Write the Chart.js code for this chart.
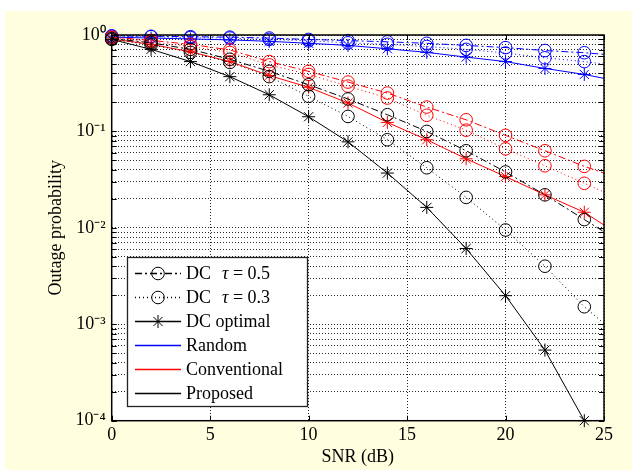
<!DOCTYPE html>
<html><head><meta charset="utf-8">
<script src="https://cdn.jsdelivr.net/npm/chart.js@4/dist/chart.umd.min.js"></script>
<style>html,body{margin:0;padding:0;background:#fff}#wrap{width:637px;height:470px}</style>
</head><body><div id="wrap"><canvas id="c" width="637" height="470"></canvas></div>
<script>
// ---- data ----
const snr = [0, 2, 4, 6, 8, 10, 12, 14, 16, 18, 20, 22, 24, 25];
// marker shown at every point except the final line end at 25 dB
const blueTau05  = [0.98, 0.97, 0.96, 0.95, 0.93, 0.90, 0.875, 0.85, 0.82, 0.78, 0.74, 0.69, 0.655, 0.63];
const blueTau03  = [0.97, 0.96, 0.94, 0.93, 0.90, 0.87, 0.83, 0.80, 0.76, 0.71, 0.65, 0.58, 0.53, 0.50];
const blueOpt    = [0.95, 0.93, 0.91, 0.89, 0.86, 0.82, 0.78, 0.72, 0.66, 0.59, 0.53, 0.45, 0.39, 0.355];
const redTau05   = [0.95, 0.88, 0.80, 0.70, 0.53, 0.42, 0.325, 0.25, 0.179, 0.132, 0.091, 0.063, 0.0434, 0.037];
const redTau03   = [0.94, 0.85, 0.76, 0.66, 0.49, 0.39, 0.295, 0.222, 0.147, 0.103, 0.066, 0.044, 0.029, 0.0235];
const redOpt     = [0.91, 0.80, 0.67, 0.53, 0.38, 0.287, 0.197, 0.124, 0.082, 0.052, 0.034, 0.022, 0.0145, 0.0107];
const blackTau05 = [0.92, 0.83, 0.71, 0.56, 0.42, 0.305, 0.217, 0.149, 0.10, 0.063, 0.038, 0.022, 0.0122, 0.0091];
const blackTau03 = [0.90, 0.79, 0.66, 0.52, 0.37, 0.231, 0.143, 0.082, 0.042, 0.0207, 0.0095, 0.0040, 0.00152, 0.00102];
const blackOpt   = [0.90, 0.71, 0.53, 0.37, 0.24, 0.142, 0.078, 0.037, 0.0163, 0.0061, 0.00198, 0.00054, 0.0001, null];
const xTicks = [0, 5, 10, 15, 20, 25];
const yDecades = [-4, -3, -2, -1, 0];
const legendLabels = ['DC  \u03c4 = 0.5', 'DC  \u03c4 = 0.3', 'DC optimal', 'Random', 'Conventional', 'Proposed'];
const xTitle = 'SNR (dB)';
const yTitle = 'Outage probability';

// ---- styles ----
const DASHDOT = [7, 3, 2, 3];
const DOT = [1, 3];
const BLUE = '#0000ff', RED = '#ff0000', BLACK = '#000000';
const FONT = "'Liberation Serif', 'Times New Roman', serif";

const yTickValues = [];
yDecades.forEach(d => {
  if (d === 0) { yTickValues.push(1); return; }
  for (let m = 1; m <= 9; m++) yTickValues.push(Number((m * Math.pow(10, d)).toPrecision(3)));
});

function mk(vals, color, style) {
  const isStar = style === 'opt';
  return {
    data: snr.map((x, i) => ({x, y: vals[i]})),
    borderColor: color,
    pointBorderColor: color,
    pointBackgroundColor: 'rgba(0,0,0,0)',
    borderWidth: 1,
    borderDash: style === 'tau05' ? DASHDOT : style === 'tau03' ? DOT : [],
    pointStyle: isStar ? 'star' : 'circle',
    pointRadius: snr.map(x => x === 25 ? 0 : (isStar ? 6.5 : 6.3)),
    pointHoverRadius: 0,
    pointBorderWidth: 1,
    tension: 0,
    fill: false,
    clip: false,
    spanGaps: false
  };
}

const datasets = [
  mk(blackTau05, BLACK, 'tau05'), mk(blackTau03, BLACK, 'tau03'), mk(blackOpt, BLACK, 'opt'),
  mk(redTau05, RED, 'tau05'), mk(redTau03, RED, 'tau03'), mk(redOpt, RED, 'opt'),
  mk(blueTau05, BLUE, 'tau05'), mk(blueTau03, BLUE, 'tau03'), mk(blueOpt, BLUE, 'opt')
];

const sup = {'-': '\u207b', '0': '\u2070', '1': '\u00b9', '2': '\u00b2', '3': '\u00b3', '4': '\u2074'};
function supStr(n) { return String(n).split('').map(c => sup[c]).join(''); }

function marker(ctx, kind, x, y, r, color) {
  ctx.save();
  ctx.strokeStyle = color;
  ctx.lineWidth = 1;
  ctx.setLineDash([]);
  ctx.beginPath();
  if (kind === 'circle') {
    ctx.arc(x, y, r, 0, Math.PI * 2);
  } else {
    for (let k = 0; k < 4; k++) {
      const a = k * Math.PI / 4;
      ctx.moveTo(x - r * Math.cos(a), y - r * Math.sin(a));
      ctx.lineTo(x + r * Math.cos(a), y + r * Math.sin(a));
    }
  }
  ctx.stroke();
  ctx.restore();
}

const bgPlugin = {
  id: 'bg',
  beforeDraw(chart) {
    const {ctx, chartArea: a} = chart;
    ctx.save();
    ctx.fillStyle = '#ffffff';
    ctx.fillRect(0, 0, chart.width, chart.height);
    ctx.fillStyle = '#ffffe0';
    ctx.fillRect(5, 11, 627, 459);
    ctx.fillStyle = '#ffffff';
    ctx.fillRect(a.left, a.top, a.right - a.left, a.bottom - a.top);
    ctx.restore();
  },
  afterDatasetsDraw(chart) {
    const {ctx, chartArea: a, scales} = chart;
    ctx.save();
    ctx.strokeStyle = '#000';
    ctx.lineWidth = 1;
    ctx.setLineDash([]);
    ctx.beginPath();
    yTickValues.forEach(v => {
      const y = Math.round(scales.y.getPixelForValue(v)) + 0.5;
      ctx.moveTo(a.left, y); ctx.lineTo(a.left + 5, y);
      ctx.moveTo(a.right, y); ctx.lineTo(a.right - 5, y);
    });
    xTicks.forEach(v => {
      const x = Math.round(scales.x.getPixelForValue(v)) + 0.5;
      ctx.moveTo(x, a.bottom); ctx.lineTo(x, a.bottom - 5);
      ctx.moveTo(x, a.top); ctx.lineTo(x, a.top + 5);
    });
    ctx.stroke();
    ctx.lineWidth = 1.5;
    ctx.strokeRect(a.left, a.top, a.right - a.left, a.bottom - a.top);

    // legend
    const bx = 127, by = 257, bw = 180, bh = 149;
    ctx.fillStyle = '#fff';
    ctx.fillRect(bx, by, bw, bh);
    ctx.lineWidth = 1.3;
    ctx.strokeStyle = '#222';
    ctx.strokeRect(bx + 0.5, by + 0.5, bw, bh);
    const styles = [
      {c: BLACK, dash: DASHDOT, m: 'circle'},
      {c: BLACK, dash: DOT, m: 'circle'},
      {c: BLACK, dash: [], m: 'star'},
      {c: BLUE, dash: [], m: null},
      {c: RED, dash: [], m: null},
      {c: BLACK, dash: [], m: null}
    ];
    ctx.textBaseline = 'middle';
    ctx.textAlign = 'left';
    legendLabels.forEach((lab, i) => {
      const y = 273 + i * 24;
      const s = styles[i];
      ctx.save();
      ctx.strokeStyle = s.c;
      ctx.lineWidth = 1.4;
      ctx.setLineDash(s.dash);
      ctx.beginPath(); ctx.moveTo(135, y + 0.5); ctx.lineTo(181, y + 0.5); ctx.stroke();
      ctx.restore();
      if (s.m) marker(ctx, s.m, 158, y + 0.5, s.m === 'star' ? 6.5 : 6.3, s.c);
      ctx.fillStyle = '#000';
      const tauIdx = lab.indexOf('\u03c4');
      if (tauIdx >= 0) {
        const a1 = lab.slice(0, tauIdx), a2 = lab.slice(tauIdx + 1);
        ctx.font = '18px ' + FONT;
        ctx.fillText(a1, 186, y + 1);
        let x = 186 + ctx.measureText(a1).width + 2;
        ctx.font = 'italic 18px ' + FONT;
        ctx.fillText('\u03c4', x, y + 1);
        x += ctx.measureText('\u03c4').width;
        ctx.font = '18px ' + FONT;
        ctx.fillText(a2, x, y + 1);
      } else {
        ctx.font = '18px ' + FONT;
        ctx.fillText(lab, 186, y + 1);
      }
    });
    ctx.restore();
  }
};

new Chart(document.getElementById('c'), {
  type: 'line',
  data: {datasets},
  plugins: [bgPlugin],
  options: {
    responsive: false,
    animation: false,
    devicePixelRatio: 1,
    events: [],
    layout: {padding: {top: 35, right: 33, left: 0, bottom: 0}},
    plugins: {legend: {display: false}, tooltip: {enabled: false}},
    scales: {
      x: {
        type: 'linear', min: 0, max: 25,
        afterBuildTicks: s => { s.ticks = xTicks.map(v => ({value: v})); },
        afterFit: s => { s.height = 49.3; },
        ticks: {color: '#000', font: {family: FONT, size: 18}, padding: 4, autoSkip: false, maxRotation: 0},
        grid: {color: 'rgba(0,0,0,0.85)', lineWidth: 1, drawTicks: false},
        border: {display: false, dash: [1, 2]},
        title: {display: true, text: xTitle, color: '#000', font: {family: FONT, size: 18}, padding: {top: 0, bottom: 2}}
      },
      y: {
        type: 'logarithmic', min: 1e-4, max: 1,
        afterBuildTicks: s => { s.ticks = yTickValues.map(v => ({value: v})); },
        afterFit: s => { s.width = 111.7; },
        ticks: {
          color: '#000', font: {family: FONT, size: 18}, padding: 6, autoSkip: false,
          callback: v => {
            const e = Math.log10(v);
            return Math.abs(e - Math.round(e)) < 1e-9 ? '10' + supStr(Math.round(e)) : '';
          }
        },
        grid: {color: 'rgba(0,0,0,0.85)', lineWidth: 1, drawTicks: false},
        border: {display: false, dash: [1, 2]},
        title: {display: true, text: yTitle, color: '#000', font: {family: FONT, size: 18}, padding: {top: 45, bottom: 0}}
      }
    }
  }
});
</script></body></html>
